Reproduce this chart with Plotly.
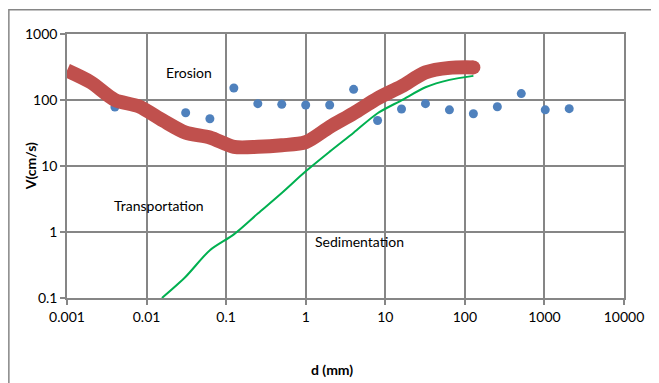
import math
import plotly.graph_objects as go

# Scatter (blue dots)
dot_d = [0.004, 0.008, 0.031, 0.0625, 0.125, 0.25, 0.5, 1, 2, 4, 8, 16, 32, 64, 128, 256, 512, 1024, 2048]
dot_v = [78, 77, 64, 52, 152, 88, 86, 84, 84, 145, 49, 73, 88, 71, 62, 79, 125, 71, 74]

# Erosion curve (thick red)
ero_d = [0.001, 0.002, 0.004, 0.008, 0.016, 0.031, 0.0625, 0.125, 0.25, 0.5, 1, 2, 4, 8, 16, 32, 64, 128]
ero_v = [280, 185, 100, 80, 49, 32, 27, 19.5, 19.5, 20.6, 23, 39, 63, 106, 161, 262, 307, 312]

# Sedimentation curve (green)
sed_d = [0.0156, 0.031, 0.0625, 0.125, 0.25, 0.5, 1, 2, 4, 8, 16, 32, 64, 128]
sed_v = [0.1, 0.21, 0.53, 0.92, 1.9, 3.9, 8.3, 16.5, 32, 63, 99, 156, 202, 232]

x_ticks = [0.001, 0.01, 0.1, 1, 10, 100, 1000, 10000]
x_tick_text = ["0.001", "0.01", "0.1", "1", "10", "100", "1000", "10000"]
y_ticks = [0.1, 1, 10, 100, 1000]
y_tick_text = ["0.1", "1", "10", "100", "1000"]

region_labels = ["Erosion", "Transportation", "Sedimentation"]
region_d = [0.0343, 0.0145, 4.8]
region_v = [257, 2.49, 0.73]

FONT = "Lato"
GRID = "#868686"
RED = "#C0504D"
FS = 14

fig = go.Figure()
fig.add_trace(go.Scatter(x=dot_d, y=dot_v, mode="markers",
                         marker=dict(color="#4F81BD", size=9), showlegend=False))
fig.add_trace(go.Scatter(x=ero_d, y=ero_v, mode="lines",
                         line=dict(color=RED, width=14, shape="spline", smoothing=0.8),
                         showlegend=False))
# round cap at the end of the erosion curve
fig.add_trace(go.Scatter(x=ero_d[-1:], y=ero_v[-1:], mode="markers",
                         marker=dict(color=RED, size=14, line=dict(width=0)), showlegend=False))
fig.add_trace(go.Scatter(x=sed_d, y=sed_v, mode="lines",
                         line=dict(color="#00B050", width=2, shape="spline", smoothing=0.8),
                         showlegend=False))

for txt, xd, yv in zip(region_labels, region_d, region_v):
    fig.add_annotation(x=math.log10(xd), y=math.log10(yv), xref="x", yref="y", text=txt,
                       showarrow=False, xanchor="center", yanchor="middle",
                       font=dict(family=FONT, size=FS, color="#000000"))

# page has an 8px body margin; reference pixel coordinates are page coordinates
OFF = 8
W, H = 659 - OFF, 383 - OFF
PL, PR, PT, PB = 66.7, 624.3, 33.7, 298.0   # plot area in page pixels
l, r, t, b = PL - OFF, W - (PR - OFF), PT - OFF, H - (PB - OFF)
pw, ph = PR - PL, PB - PT

# outer chart frame
fig.add_shape(type="rect", xref="paper", yref="paper",
              x0=(8.5 - PL) / pw, x1=(700 - PL) / pw,
              y0=-(420 - PB) / ph, y1=(PB - 9.5) / ph,
              line=dict(color="#868686", width=1.5), fillcolor="rgba(0,0,0,0)", layer="below")

# axis titles
fig.add_annotation(xref="paper", yref="paper", x=(331.5 - PL) / pw, y=(PB - 370) / ph,
                   xanchor="center", yanchor="middle",
                   text="<b>d (mm)</b>", showarrow=False,
                   font=dict(family=FONT, size=FS, color="#000"))
fig.add_annotation(xref="paper", yref="paper", x=(23 - PL) / pw, y=0.5, textangle=-90,
                   xanchor="center", yanchor="middle", xshift=7,
                   text="<b>V(cm/s)</b>", showarrow=False,
                   font=dict(family=FONT, size=FS, color="#000"))

fig.update_xaxes(type="log", range=[-3, 4], tickvals=x_ticks, ticktext=x_tick_text,
                 showgrid=True, gridcolor=GRID, gridwidth=1.5,
                 showline=True, linecolor=GRID, linewidth=1.5, mirror=True,
                 ticks="outside", ticklen=5, tickcolor=GRID, tickwidth=1.5,
                 tickfont=dict(family=FONT, size=FS, color="#000"),
                 zeroline=False)
fig.update_yaxes(type="log", range=[-1, 3], tickvals=y_ticks, ticktext=y_tick_text,
                 showgrid=True, gridcolor=GRID, gridwidth=1.5,
                 showline=True, linecolor=GRID, linewidth=1.5, mirror=True,
                 ticks="outside", ticklen=5, tickcolor=GRID, tickwidth=1.5,
                 tickfont=dict(family=FONT, size=FS, color="#000"),
                 zeroline=False)

fig.update_layout(width=W, height=H, margin=dict(l=l, r=r, t=t, b=b, autoexpand=False),
                  paper_bgcolor="white", plot_bgcolor="white")

fig.write_html("out.html")
